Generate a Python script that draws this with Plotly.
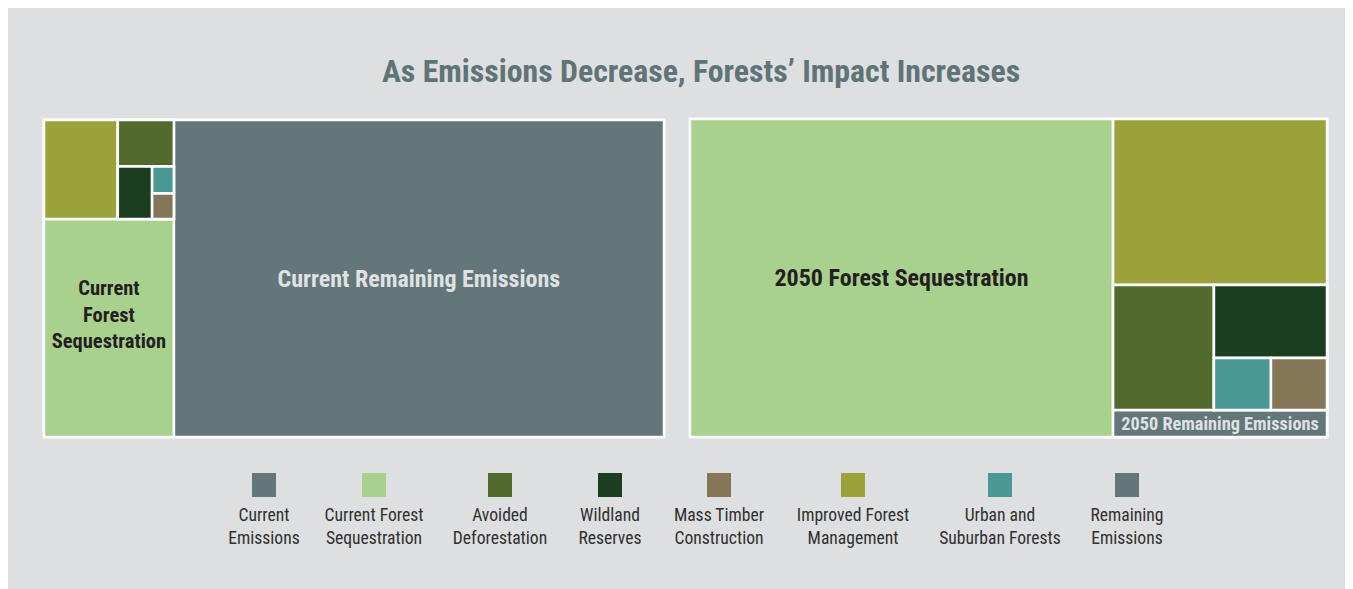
import plotly.graph_objects as go

# ---------------- data ----------------
TITLE = "As Emissions Decrease, Forests\u2019 Impact Increases"

categories = ["Current Emissions", "Current Forest Sequestration", "Avoided Deforestation",
              "Wildland Reserves", "Mass Timber Construction", "Improved Forest Management",
              "Urban and Suburban Forests", "Remaining Emissions"]
legend_labels = ["Current<br>Emissions", "Current Forest<br>Sequestration", "Avoided<br>Deforestation",
                 "Wildland<br>Reserves", "Mass Timber<br>Construction", "Improved Forest<br>Management",
                 "Urban and<br>Suburban Forests", "Remaining<br>Emissions"]

# current (left treemap) leaf values
current_remaining = 155300
current_sequestration = 28300
current_ifm = 7300
current_avoided = 2600
current_wildland = 1800
current_urban = 590
current_mass_timber = 550

# 2050 (right treemap) leaf values
f2050_sequestration = 134500
f2050_ifm = 35500
f2050_avoided = 12600
f2050_wildland = 8250
f2050_urban = 2960
f2050_mass_timber = 2910
f2050_remaining = 5780

# ---------------- style ----------------
C_EMIS = "#637679"
C_SEQ = "#a9d18e"
C_AVOID = "#526b2c"
C_WILD = "#1b3d20"
C_MASS = "#857658"
C_IFM = "#9ca23a"
C_URBAN = "#4a9893"
BG = "#dedfe0"
LIGHT_TXT = "#dfe1e2"
DARK_TXT = "#231f20"
colors = [C_EMIS, C_SEQ, C_AVOID, C_WILD, C_MASS, C_IFM, C_URBAN, C_EMIS]

# the page body adds an 8px margin, so the figure is 8px smaller and offset
OFF = 8
W, H = 1353 - OFF, 589 - OFF
def fx(px):
    return (px - OFF) / W
def fy(py):
    return 1 - (py - OFF) / H

COND = "Roboto Condensed, Liberation Sans Narrow, sans-serif"
LEGEND_X = [264, 374, 500, 610, 719, 853, 1000, 1127]  # layout positions (px)

fig = go.Figure()

# ---------- left treemap (nested to reproduce slice/dice layout) ----------
l_ids = ["L", "L_col", "L_rem", "L_top", "L_seq", "L_ifm", "L_sub", "L_avoid", "L_sub2",
         "L_wild", "L_sub3", "L_urban", "L_mass"]
l_par = ["", "L", "L", "L_col", "L_col", "L_top", "L_top", "L_sub", "L_sub",
         "L_sub2", "L_sub2", "L_sub3", "L_sub3"]
l_val = [0, 0, current_remaining, 0, current_sequestration, current_ifm, 0, current_avoided, 0,
         current_wildland, 0, current_urban, current_mass_timber]
l_col = ["white", "white", C_EMIS, "white", C_SEQ, C_IFM, "white", C_AVOID, "white",
         C_WILD, "white", C_URBAN, C_MASS]
l_txt = ["", "", "Current Remaining Emissions", "", "Current<br>Forest<br>Sequestration<br> ", "", "", "", "",
         "", "", "", ""]
l_tcol = ["white"] * len(l_ids)
l_tcol[2] = LIGHT_TXT
l_tcol[4] = DARK_TXT
l_tsize = [20.5] * len(l_ids)
l_tsize[2] = 24

fig.add_trace(go.Treemap(
    ids=l_ids, labels=l_ids, parents=l_par, values=l_val, branchvalues="remainder",
    sort=False, text=l_txt, textinfo="text", textposition="middle center",
    textfont=dict(family=COND, size=l_tsize, color=l_tcol, weight="bold"),
    marker=dict(colors=l_col, line=dict(color="white", width=2.5),
                pad=dict(t=0, l=0, r=0, b=0), depthfade=False),
    tiling=dict(packing="slice-dice", pad=0),
    pathbar=dict(visible=False), hoverinfo="skip",
    domain=dict(x=[fx(44), fx(664)], y=[fy(437), fy(120)]),
))

# ---------- right treemap ----------
r_ids = ["R", "R_seq", "R_col", "R_ifm", "R_mid", "R_rem", "R_avoid", "R_sub",
         "R_wild", "R_sub2", "R_urban", "R_mass"]
r_par = ["", "R", "R", "R_col", "R_col", "R_col", "R_mid", "R_mid",
         "R_sub", "R_sub", "R_sub2", "R_sub2"]
r_val = [0, f2050_sequestration, 0, f2050_ifm, 0, f2050_remaining, f2050_avoided, 0,
         f2050_wildland, 0, f2050_urban, f2050_mass_timber]
r_col = ["white", C_SEQ, "white", C_IFM, "white", C_EMIS, C_AVOID, "white",
         C_WILD, "white", C_URBAN, C_MASS]
r_txt = ["", "2050 Forest Sequestration", "", "", "", "2050 Remaining Emissions", "", "",
         "", "", "", ""]
r_tcol = ["white"] * len(r_ids)
r_tcol[1] = DARK_TXT
r_tcol[5] = LIGHT_TXT
r_tsize = [22] * len(r_ids)
r_tsize[1] = 24
r_tsize[5] = 18.3

fig.add_trace(go.Treemap(
    ids=r_ids, labels=r_ids, parents=r_par, values=r_val, branchvalues="remainder",
    sort=False, text=r_txt, textinfo="text", textposition="middle center",
    textfont=dict(family=COND, size=r_tsize, color=r_tcol, weight="bold"),
    marker=dict(colors=r_col, line=dict(color="white", width=2.5),
                pad=dict(t=0, l=0, r=0, b=0), depthfade=False),
    tiling=dict(packing="slice-dice", pad=0),
    pathbar=dict(visible=False), hoverinfo="skip",
    domain=dict(x=[fx(690), fx(1327)], y=[fy(437), fy(119)]),
))

# ---------- legend (custom: swatch above two-line label) ----------
fig.add_trace(go.Scatter(
    x=LEGEND_X, y=[485] * len(categories), mode="markers",
    marker=dict(symbol="square", size=24, color=colors, line=dict(width=0)),
    hoverinfo="skip", showlegend=False, xaxis="x", yaxis="y",
))
fig.add_trace(go.Scatter(
    x=LEGEND_X, y=[528] * len(categories), mode="text", text=legend_labels,
    textposition="middle center",
    textfont=dict(family=COND, size=17.6, color="#303030"),
    hoverinfo="skip", showlegend=False, xaxis="x", yaxis="y",
))

fig.update_layout(
    width=W, height=H,
    margin=dict(l=0, r=0, t=0, b=0),
    paper_bgcolor=BG, plot_bgcolor="rgba(0,0,0,0)",
    showlegend=False,
    title=dict(text=TITLE, x=fx(701), xanchor="center", y=fy(71), yanchor="middle",
               font=dict(family=COND, size=31.8, color="#5f7477", weight="bold")),
    xaxis=dict(range=[OFF, 1353], domain=[0, 1], visible=False, fixedrange=True),
    yaxis=dict(range=[589, OFF], domain=[0, 1], visible=False, fixedrange=True),
)

fig.write_html("out.html")
